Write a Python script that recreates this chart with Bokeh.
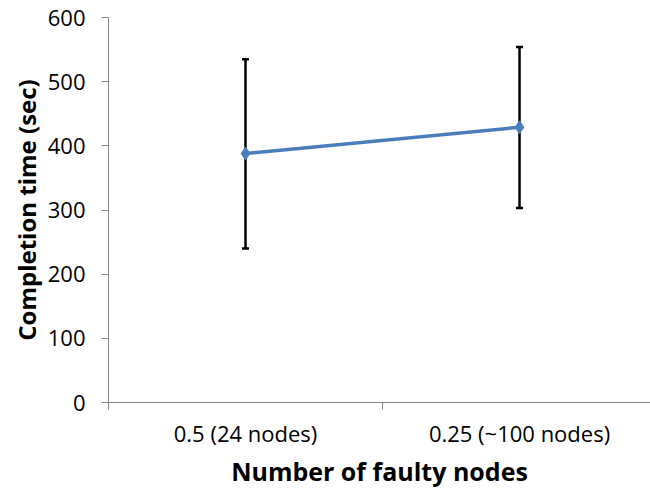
from bokeh.plotting import figure
from bokeh.models import (ColumnDataSource, Whisker, TeeHead, FixedTicker,
                          CustomJSTickFormatter, Range1d)
from bokeh.embed import file_html
from bokeh.resources import INLINE

# ---- data ----
categories = ["0.5 (24 nodes)", "0.25 (~100 nodes)"]
mean_time = [388, 429]
err_low = [240, 303]
err_high = [535, 554]
y_ticks = [0, 100, 200, 300, 400, 500, 600]
x_title = "Number of faulty nodes"
y_title = "Completion time (sec)"

FONT = "Open Sans"
AXIS_GREY = "#868686"
BLUE = "#4A7EBB"

xs = [i + 0.5 for i in range(len(categories))]
src = ColumnDataSource(dict(x=xs, y=mean_time, lo=err_low, hi=err_high))

p = figure(width=650, height=491, output_backend="svg", toolbar_location=None,
           x_range=Range1d(0, 1.978), y_range=Range1d(0, 600),
           min_border_left=108, min_border_right=0, min_border_top=17,
           min_border_bottom=89)
p.outline_line_color = None
p.grid.visible = False
p.background_fill_color = "white"
p.border_fill_color = "white"

# error bars
w = Whisker(source=src, base="x", lower="lo", upper="hi",
            line_color="black", line_width=2.5,
            lower_head=TeeHead(size=7, line_color="black", line_width=2.5),
            upper_head=TeeHead(size=7, line_color="black", line_width=2.5))
p.add_layout(w)

p.line("x", "y", source=src, line_color=BLUE, line_width=3.5)
p.scatter("x", "y", source=src, marker="diamond", size=13,
          fill_color=BLUE, line_color=BLUE)

# y axis
ya = p.yaxis[0]
ya.ticker = FixedTicker(ticks=y_ticks)
ya.axis_line_color = AXIS_GREY
ya.major_tick_line_color = AXIS_GREY
ya.major_tick_out = 7
ya.major_tick_in = 0
ya.minor_tick_line_color = None
ya.major_label_text_font = FONT
ya.major_label_text_font_size = "22px"
ya.major_label_text_color = "black"
ya.major_label_standoff = 16
ya.axis_label = y_title
ya.axis_label_text_font = FONT
ya.axis_label_text_font_size = "24px"
ya.axis_label_text_font_style = "bold"
ya.axis_label_text_color = "black"
ya.axis_label_standoff = 2

# x axis
xa = p.xaxis[0]
xa.ticker = FixedTicker(ticks=xs, minor_ticks=list(range(len(categories) + 1)))
xa.formatter = CustomJSTickFormatter(args=dict(cats=categories),
                                     code="return cats[Math.round(tick - 0.5)];")
xa.axis_line_color = AXIS_GREY
xa.major_tick_line_color = None
xa.major_tick_out = 0
xa.major_tick_in = 0
xa.minor_tick_line_color = AXIS_GREY
xa.minor_tick_out = 7
xa.minor_tick_in = 0
xa.major_label_text_font = FONT
xa.major_label_text_font_size = "22px"
xa.major_label_text_color = "black"
xa.major_label_standoff = 8
xa.axis_label = x_title
xa.axis_label_text_font = FONT
xa.axis_label_text_font_size = "25px"
xa.axis_label_text_font_style = "bold"
xa.axis_label_text_color = "black"
xa.axis_label_standoff = 3

open("out.html", "w").write(file_html(p, INLINE))
